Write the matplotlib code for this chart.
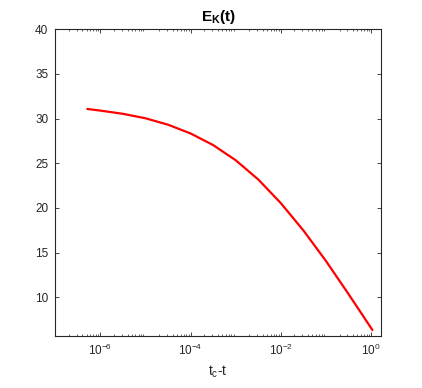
import numpy as np
import matplotlib
matplotlib.use("Agg")
import matplotlib.pyplot as plt
from matplotlib.ticker import LogLocator, NullFormatter

plt.rcParams['font.family'] = ['Liberation Sans', 'DejaVu Sans']
plt.rcParams['mathtext.fontset'] = 'custom'
plt.rcParams['mathtext.rm'] = 'Liberation Sans'
plt.rcParams['mathtext.bf'] = 'Liberation Sans:bold'
plt.rcParams['mathtext.default'] = 'regular'

# data
t_gap = [5.13e-7, 1e-6, 3.16e-6, 1e-5, 3.16e-5, 1e-4, 3.16e-4, 1e-3,
         3.16e-3, 1e-2, 3.16e-2, 0.1, 0.316, 1.0, 1.074]
energy = [31.08, 30.90, 30.54, 30.04, 29.32, 28.34, 27.04, 25.34,
          23.19, 20.54, 17.49, 14.07, 10.37, 6.57, 6.34]

y_ticks = [10, 15, 20, 25, 30, 35, 40]
x_ticks = [1e-6, 1e-4, 1e-2, 1e0]

ax_color = (0.15, 0.15, 0.15)

fig = plt.figure(figsize=(4.22, 3.88), dpi=100)
ax = fig.add_axes([0.131, 0.134, 0.772, 0.7905])

ax.plot(t_gap, energy, color='red', lw=1.6, solid_capstyle='round')

ax.set_xscale('log')
ax.set_xlim(1e-7, 1.667)
ax.set_ylim(5.67, 40)
ax.set_xticks(x_ticks)
ax.xaxis.set_minor_locator(LogLocator(base=10, subs=np.arange(2, 10), numticks=20))
ax.xaxis.set_minor_formatter(NullFormatter())
ax.set_yticks(y_ticks)

ax.tick_params(which='both', direction='in', top=True, right=True,
               colors=ax_color, labelsize=8.5)
ax.tick_params(which='major', length=3, width=0.6, pad=5)
ax.tick_params(which='minor', length=1.5, width=0.5)
for s in ax.spines.values():
    s.set_color(ax_color)
    s.set_linewidth(0.8)

ax.set_title('$\\mathbf{E_K(t)}$', fontsize=11, color='black', pad=6)
ax.set_xlabel('$t_c$-t', fontsize=10, color=ax_color, labelpad=4)

fig.savefig('out.png', dpi=100)
